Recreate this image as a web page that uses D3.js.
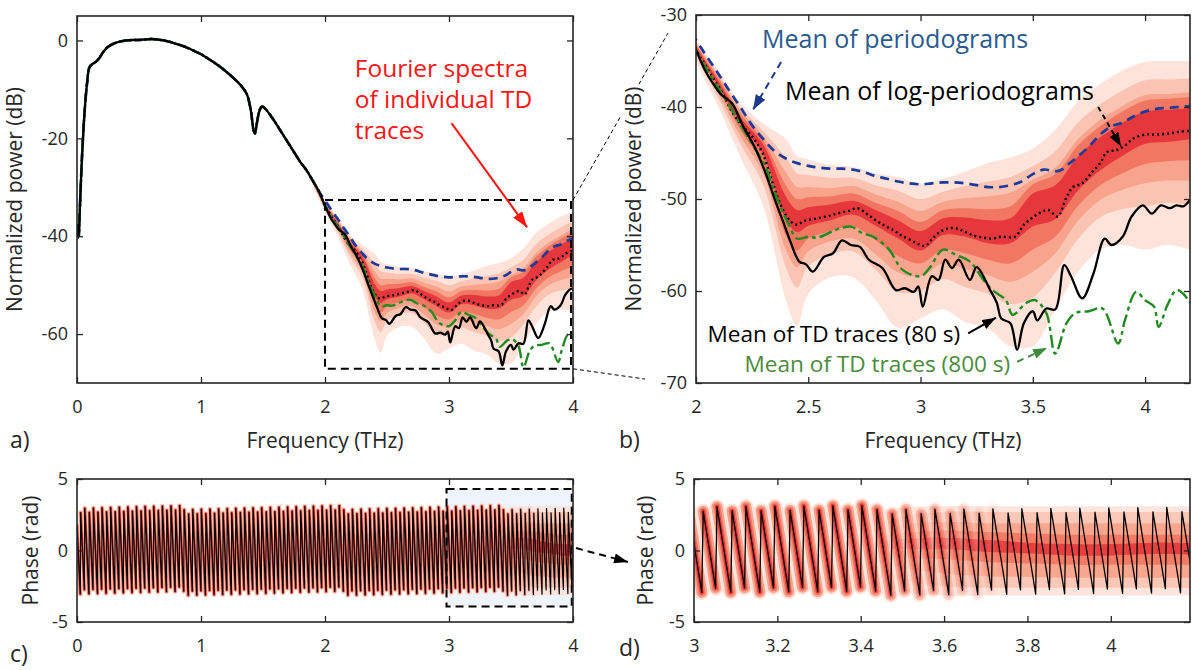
<!DOCTYPE html>
<html><head><meta charset="utf-8">
<script src="https://cdn.jsdelivr.net/npm/d3@7"></script>
<style>
html,body{margin:0;padding:0;background:#fff;}
svg{display:block;}
</style></head><body>
<svg id="chart" width="1192" height="670"></svg>
<script>
// ---------------- DATA ----------------
// Common spectrum (all four means coincide below 2 THz)
const fLow = [0.000,0.012,0.025,0.040,0.060,0.080,0.100,0.120,0.150,0.180,0.210,0.250,0.300,0.350,0.400,0.450,0.500,0.550,0.600,0.650,0.700,0.750,0.800,0.850,0.900,0.950,1.000,1.050,1.100,1.150,1.200,1.250,1.300,1.340,1.370,1.400,1.425,1.435,1.450,1.470,1.490,1.520,1.560,1.600,1.650,1.700,1.750,1.800,1.850,1.900,1.950];
const powLow = [-37.5,-40.3,-33,-24,-15,-9,-5.5,-4.9,-4.4,-3.6,-2.4,-1.3,-0.6,-0.2,0.0,0.1,0.1,0.2,0.3,0.2,0.0,-0.3,-0.7,-1.1,-1.6,-2.2,-2.8,-3.6,-4.4,-5.3,-6.3,-7.4,-8.6,-9.8,-11.0,-14.0,-18.5,-19.0,-17.0,-14.5,-13.5,-14.0,-15.3,-16.8,-18.8,-20.8,-22.8,-24.8,-26.5,-28.6,-30.8];

// Above 2 THz: [frequency THz, power dB]
const meanPeriodogramHigh = [[2.00,-32.7],[2.05,-34.6],[2.10,-36.4],[2.15,-38.3],[2.20,-40.1],[2.25,-42.0],[2.30,-43.5],[2.35,-44.8],[2.40,-45.6],[2.45,-46.1],[2.50,-46.4],[2.55,-46.6],[2.60,-46.7],[2.65,-46.7],[2.70,-46.8],[2.75,-47.1],[2.80,-47.5],[2.85,-47.8],[2.90,-48.1],[2.95,-48.3],[3.00,-48.4],[3.05,-48.3],[3.10,-48.2],[3.15,-48.2],[3.20,-48.3],[3.25,-48.5],[3.30,-48.7],[3.35,-48.7],[3.40,-48.5],[3.45,-48.1],[3.50,-47.3],[3.55,-46.8],[3.60,-47.0],[3.63,-46.8],[3.66,-46.2],[3.70,-45.4],[3.75,-44.3],[3.80,-43.0],[3.85,-42.1],[3.90,-41.7],[3.95,-41.0],[4.00,-40.5],[4.05,-40.2],[4.10,-40.1],[4.15,-40.0],[4.20,-39.9]];
const meanLogPeriodogramHigh = [[2.00,-33.8],[2.04,-35.4],[2.08,-37.0],[2.12,-38.6],[2.16,-40.5],[2.20,-41.9],[2.24,-42.9],[2.27,-43.9],[2.30,-45.2],[2.33,-47.4],[2.36,-49.6],[2.39,-51.3],[2.42,-52.4],[2.45,-52.8],[2.48,-52.4],[2.52,-52.2],[2.56,-52.0],[2.60,-51.8],[2.64,-51.5],[2.68,-51.3],[2.72,-51.0],[2.76,-51.6],[2.80,-52.3],[2.84,-52.9],[2.88,-53.4],[2.91,-53.9],[2.95,-54.4],[2.99,-54.9],[3.02,-55.1],[3.05,-54.4],[3.08,-53.7],[3.12,-53.2],[3.16,-53.2],[3.20,-53.6],[3.24,-54.0],[3.28,-54.2],[3.32,-54.3],[3.36,-54.1],[3.42,-54.1],[3.46,-52.8],[3.50,-52.0],[3.54,-51.4],[3.57,-51.2],[3.61,-51.9],[3.65,-49.8],[3.68,-48.7],[3.72,-48.3],[3.76,-47.2],[3.80,-46.1],[3.83,-44.9],[3.87,-44.7],[3.91,-44.2],[3.95,-43.4],[4.00,-43.0],[4.05,-43.0],[4.10,-42.9],[4.15,-42.7],[4.20,-42.6]];
const meanTD80High = [[2.00,-33.8],[2.04,-36.0],[2.08,-37.6],[2.11,-38.6],[2.16,-39.6],[2.21,-42.1],[2.26,-44.3],[2.31,-47.2],[2.35,-50.0],[2.39,-52.6],[2.42,-54.6],[2.46,-56.8],[2.49,-57.1],[2.52,-57.9],[2.57,-56.3],[2.61,-55.9],[2.65,-54.5],[2.69,-55.0],[2.73,-55.2],[2.77,-56.6],[2.83,-57.5],[2.89,-59.9],[2.93,-59.7],[2.97,-60.1],[2.99,-59.5],[3.01,-61.7],[3.05,-58.4],[3.08,-58.8],[3.11,-56.6],[3.14,-57.5],[3.17,-56.6],[3.22,-58.8],[3.25,-57.4],[3.31,-59.9],[3.34,-61.3],[3.36,-63.0],[3.40,-63.5],[3.43,-66.4],[3.46,-63.5],[3.50,-62.2],[3.52,-63.2],[3.56,-61.9],[3.60,-62.0],[3.64,-57.2],[3.67,-58.4],[3.72,-60.8],[3.77,-58.1],[3.82,-54.3],[3.85,-55.0],[3.90,-54.1],[3.94,-51.9],[3.99,-50.7],[4.03,-51.6],[4.07,-50.7],[4.11,-51.0],[4.14,-50.7],[4.17,-50.8],[4.20,-50.1]];
const meanTD800High = [[2.00,-33.8],[2.04,-35.6],[2.08,-37.2],[2.12,-38.7],[2.16,-40.3],[2.20,-42.0],[2.24,-43.6],[2.28,-45.2],[2.31,-46.5],[2.34,-48.5],[2.37,-50.5],[2.41,-52.6],[2.45,-54.3],[2.50,-54.1],[2.54,-54.2],[2.60,-53.6],[2.64,-53.2],[2.69,-53.0],[2.74,-53.7],[2.79,-54.1],[2.86,-55.5],[2.92,-57.7],[3.00,-58.4],[3.04,-57.5],[3.10,-55.5],[3.16,-56.1],[3.22,-56.8],[3.28,-58.8],[3.32,-59.9],[3.38,-61.0],[3.41,-62.6],[3.47,-61.3],[3.51,-61.0],[3.56,-62.4],[3.60,-66.8],[3.65,-63.5],[3.69,-62.4],[3.75,-62.2],[3.81,-61.9],[3.88,-65.7],[3.91,-63.2],[3.96,-60.1],[4.00,-61.0],[4.04,-61.7],[4.06,-63.9],[4.10,-61.5],[4.14,-59.9],[4.17,-60.3],[4.20,-61.3]];

// Percentile bands of the individual spectra (dB), outer (L1) to core (L5)
const bandF   = [1.9,2.0,2.1,2.2,2.3,2.4,2.45,2.5,2.6,2.7,2.8,2.9,3.0,3.1,3.2,3.3,3.4,3.5,3.6,3.7,3.8,3.9,4.0,4.1,4.2];
const bandL1lo = [-29.6,-35.1,-40.0,-45.6,-50.8,-61.0,-63.8,-60.3,-58.5,-58.5,-61.0,-64.0,-63.0,-62.0,-63.4,-64.1,-66.0,-66.0,-62.0,-58.0,-55.5,-55.0,-55.5,-55.0,-55.5];
const bandL1hi = [-28.2,-32.6,-36.0,-39.6,-41.8,-43.5,-45.3,-45.7,-46.3,-46.5,-47.2,-47.6,-48.3,-47.8,-47.0,-46.1,-45.5,-44.5,-42.5,-39.4,-37.5,-36.0,-35.1,-35.0,-35.0];
const bandL2lo = [-29.3,-34.5,-39.1,-44.1,-48.5,-57.4,-59.6,-57.3,-56.0,-55.7,-57.7,-60.1,-60.0,-58.7,-59.6,-60.3,-61.4,-60.7,-58.0,-54.4,-52.0,-51.1,-50.8,-50.4,-50.6];
const bandL2hi = [-28.4,-32.9,-36.4,-40.1,-42.6,-45.5,-47.2,-47.4,-47.7,-47.7,-48.5,-49.1,-50.0,-49.2,-48.6,-48.1,-47.6,-46.4,-44.8,-41.7,-39.7,-38.2,-37.1,-37.0,-36.9];
const bandL3lo = [-29.1,-34.2,-38.6,-43.3,-47.3,-55.5,-57.4,-55.7,-54.6,-54.3,-56.0,-58.0,-58.4,-57.0,-57.6,-58.3,-59.0,-57.9,-55.9,-52.4,-50.1,-49.0,-48.3,-48.0,-48.0];
const bandL3hi = [-28.5,-33.1,-36.7,-40.5,-43.2,-47.1,-48.7,-48.7,-48.8,-48.6,-49.5,-50.3,-51.3,-50.3,-49.9,-49.7,-49.3,-47.9,-46.6,-43.5,-41.4,-39.9,-38.7,-38.6,-38.4];
const bandL4lo = [-29.0,-34.0,-38.1,-42.6,-46.3,-53.9,-55.6,-54.3,-53.5,-53.0,-54.5,-56.2,-57.0,-55.5,-55.9,-56.6,-57.0,-55.5,-54.1,-50.8,-48.5,-47.2,-46.2,-45.9,-45.8];
const bandL4hi = [-28.6,-33.2,-36.9,-40.8,-43.7,-48.5,-50.0,-49.8,-49.7,-49.4,-50.4,-51.3,-52.5,-51.2,-51.0,-51.1,-50.8,-48.4,-47.3,-44.2,-42.1,-40.5,-39.3,-39.1,-38.9];
const bandL5lo = [-28.85,-33.7,-37.7,-41.9,-45.2,-52.2,-53.6,-52.9,-52.3,-51.7,-52.9,-54.3,-55.6,-53.9,-54.1,-54.8,-54.8,-53.0,-52.2,-49.1,-46.9,-45.3,-44.0,-43.8,-43.5];
const bandL5hi = [-28.65,-33.4,-37.2,-41.2,-44.1,-49.7,-51.2,-50.9,-50.6,-50.2,-51.2,-52.3,-53.5,-52.1,-52.0,-52.3,-52.1,-49.4,-48.5,-45.4,-43.3,-41.7,-40.5,-40.3,-40.1];

// Phase: unwrapped linear phase (rad) at the ends of the range, and sampling step
const phaseKnotF = [0, 4.2];
const phaseUnwrapped = [548.38, -209.93];
const phaseStepTHz = 0.00331;
const phaseHaloFadeF = [3.42, 3.75];
// Phase percentile bands where the traces decorrelate (rad)
const phaseBandF = [3.30,3.40,3.50,3.60,3.70,3.80,3.90,4.00,4.10,4.20];
const pL1lo = [-1.0,-2.2,-2.9,-3.15,-3.15,-3.15,-3.15,-3.15,-3.15,-3.15];
const pL1hi = [1.4,2.5,3.0,3.1,3.1,3.1,3.1,3.1,3.1,3.1];
const pL2lo = [-0.4,-1.3,-2.1,-2.5,-2.6,-2.6,-2.6,-2.6,-2.6,-2.6];
const pL2hi = [0.9,1.8,2.4,2.7,2.7,2.7,2.7,2.7,2.7,2.7];
const pL3lo = [0.0,-0.6,-1.2,-1.6,-1.8,-1.85,-1.9,-1.9,-1.9,-1.9];
const pL3hi = [0.6,1.2,1.8,2.0,1.9,1.9,1.9,1.9,1.9,1.9];
const pL4lo = [0.2,-0.1,-0.5,-0.6,-0.8,-0.9,-1.0,-1.0,-1.0,-1.0];
const pL4hi = [0.4,0.8,1.2,1.4,1.3,1.2,1.1,1.1,1.1,1.1];
const pL5lo = [0.3,0.2,0.1,0.1,-0.1,-0.2,-0.35,-0.35,-0.25,-0.3];
const pL5hi = [0.3,0.5,0.8,0.9,0.75,0.55,0.45,0.45,0.55,0.5];

// Zoom boxes
const zoomBoxA = {f:[2,4], p:[-67.1,-32.6]};
const zoomBoxC = {f:[2.98,3.99], p:[-3.92,4.3]};

// Tick values
const ticksAx = [0,1,2,3,4], ticksAy = [-60,-40,-20,0];
const ticksBx = [2,2.5,3,3.5,4], ticksBy = [-70,-60,-50,-40,-30];
const ticksCx = [0,1,2,3,4], ticksCy = [-5,0,5];
const ticksDx = [3,3.2,3.4,3.6,3.8,4], ticksDy = [-5,0,5];

// ---------------- DRAWING ----------------
const INK = '#262626';
const FONT = '"Open Sans","Noto Sans","DejaVu Sans",sans-serif';
const svg = d3.select('#chart').attr('font-family', FONT);
const defs = svg.append('defs');

const xa = d3.scaleLinear().domain([0,4]).range([77,573]);
const ya = d3.scaleLinear().domain([-70,5]).range([383,16]);
const xb = d3.scaleLinear().domain([2,4.2]).range([696,1190]);
const yb = d3.scaleLinear().domain([-70,-30]).range([383,15]);
const xc = d3.scaleLinear().domain([0,4]).range([77,573]);
const yc = d3.scaleLinear().domain([-5,5]).range([622,479]);
const xd = d3.scaleLinear().domain([3,4.19]).range([694,1190]);
const yd = d3.scaleLinear().domain([-5,5]).range([622,479]);

function clip(id, x, y) {
  defs.append('clipPath').attr('id', id).append('rect')
    .attr('x', x.range()[0]).attr('y', y.range()[1])
    .attr('width', x.range()[1]-x.range()[0]).attr('height', y.range()[0]-y.range()[1]);
}
clip('cA', xa, ya); clip('cB', xb, yb); clip('cC', xc, yc); clip('cD', xd, yd);

function marker(id, color, len, wid) {
  defs.append('marker').attr('id', id).attr('markerUnits','userSpaceOnUse')
    .attr('markerWidth', len).attr('markerHeight', wid)
    .attr('refX', len).attr('refY', wid/2).attr('orient','auto')
    .append('path').attr('d', `M0,0L${len},${wid/2}L0,${wid}Z`).attr('fill', color);
}
marker('arRed', '#ff1414', 16, 11);
marker('arBlue', '#1b3a8c', 15, 11);
marker('arBlack', '#000', 14, 10);
marker('arGreen', '#3e8a3e', 14, 10);

const bandColors = ['#fde3da','#fbc4b2','#f8a38c','#f27762','#e6383c'];
const bandLevels = [[bandL1lo,bandL1hi],[bandL2lo,bandL2hi],[bandL3lo,bandL3hi],[bandL4lo,bandL4hi],[bandL5lo,bandL5hi]];
const phaseLevels = [[pL1lo,pL1hi],[pL2lo,pL2hi],[pL3lo,pL3hi],[pL4lo,pL4hi],[pL5lo,pL5hi]];

const lowPairs = fLow.map((f,i)=>[f, powLow[i]]);
const series = [
  {data: lowPairs.concat(meanPeriodogramHigh), color:'#1b3a9a', width:2.7, dash:'9,6'},
  {data: lowPairs.concat(meanLogPeriodogramHigh), color:'#000', width:2.4, dash:'2,3'},
  {data: lowPairs.concat(meanTD800High), color:'#1f8a1f', width:2.4, dash:'13,4,4,4'},
  {data: lowPairs.concat(meanTD80High), color:'#000', width:2.3, dash:null}
];

function drawAxes(g, x, y, xt, yt, fx) {
  const [x0,x1] = x.range(), [yB,yT] = y.range();
  const axs = [];
  axs.push(g.append('g').attr('transform',`translate(0,${yB})`)
    .call(d3.axisBottom(x).tickValues(xt).tickFormat(fx).tickSizeInner(-6).tickSizeOuter(0).tickPadding(17)));
  axs.push(g.append('g').attr('transform',`translate(0,${yT})`)
    .call(d3.axisTop(x).tickValues(xt).tickFormat(()=>'').tickSizeInner(-6).tickSizeOuter(0)));
  axs.push(g.append('g').attr('transform',`translate(${x0},0)`)
    .call(d3.axisLeft(y).tickValues(yt).tickFormat(d=>String(d)).tickSizeInner(-6).tickSizeOuter(0).tickPadding(9)));
  axs.push(g.append('g').attr('transform',`translate(${x1},0)`)
    .call(d3.axisRight(y).tickValues(yt).tickFormat(()=>'').tickSizeInner(-6).tickSizeOuter(0)));
  axs.forEach(a => {
    a.select('.domain').remove();
    a.attr('font-family', FONT).attr('font-size', 18);
    a.selectAll('line').attr('stroke', INK).attr('stroke-width', 1.3);
    a.selectAll('text').attr('fill', INK);
  });
  g.append('rect').attr('x',x0).attr('y',yT).attr('width',x1-x0).attr('height',yB-yT)
    .attr('fill','none').attr('stroke',INK).attr('stroke-width',1.6);
}
const fmtPlain = d => String(+(+d).toFixed(1));

function drawSpectrum(g, x, y, clipId) {
  const data = g.append('g').attr('clip-path', `url(#${clipId})`);
  bandLevels.forEach((lv,k) => {
    const area = d3.area().curve(d3.curveCatmullRom)
      .x((d,i)=>x(bandF[i])).y0((d,i)=>y(lv[0][i])).y1((d,i)=>y(lv[1][i]));
    data.append('path').datum(bandF).attr('d', area).attr('fill', bandColors[k]);
  });
  const ln = d3.line().curve(d3.curveCatmullRom).x(d=>x(d[0])).y(d=>y(d[1]));
  series.forEach(s => {
    data.append('path').datum(s.data).attr('d', ln).attr('fill','none')
      .attr('stroke', s.color).attr('stroke-width', s.width)
      .attr('stroke-dasharray', s.dash).attr('stroke-linejoin','round');
  });
}

// ---- Panel a ----
const gA = svg.append('g');
drawSpectrum(gA, xa, ya, 'cA');
gA.append('rect').attr('x', xa(zoomBoxA.f[0])).attr('y', ya(zoomBoxA.p[1]))
  .attr('width', xa(zoomBoxA.f[1]) - xa(zoomBoxA.f[0]) - 2).attr('height', ya(zoomBoxA.p[0]) - ya(zoomBoxA.p[1]))
  .attr('fill','none').attr('stroke','#000').attr('stroke-width',2).attr('stroke-dasharray','8,5');
drawAxes(gA, xa, ya, ticksAx, ticksAy, fmtPlain);

// ---- Panel b ----
const gB = svg.append('g');
drawSpectrum(gB, xb, yb, 'cB');
drawAxes(gB, xb, yb, ticksBx, ticksBy, fmtPlain);

// ---- Phase panels ----
const phaseF = d3.range(phaseKnotF[0], phaseKnotF[1] + 1e-9, phaseStepTHz);
const unwrap = d3.scaleLinear().domain(phaseKnotF).range(phaseUnwrapped);
const wrapPhase = v => { const t = 2*Math.PI; return ((((v + Math.PI) % t) + t) % t) - Math.PI; };
const phaseData = phaseF.map(f => [f, wrapPhase(unwrap(f))]);
const phaseSegs = [];
phaseData.forEach((d,i) => {
  if (i === 0 || d[1] > phaseData[i-1][1]) phaseSegs.push([]);
  phaseSegs[phaseSegs.length-1].push(d);
});

function drawPhase(g, x, y, clipId, maskId, haloW, haloC, blackW, box) {
  const data = g.append('g').attr('clip-path', `url(#${clipId})`);
  if (box) {
    data.append('rect').attr('x', x(box.f[0])).attr('y', y(box.p[1]))
      .attr('width', x(box.f[1]) - x(box.f[0])).attr('height', y(box.p[0]) - y(box.p[1]))
      .attr('fill', '#eef3fc');
  }
  phaseLevels.forEach((lv,k) => {
    const area = d3.area().curve(d3.curveCatmullRom)
      .x((d,i)=>x(phaseBandF[i])).y0((d,i)=>y(lv[0][i])).y1((d,i)=>y(lv[1][i]));
    data.append('path').datum(phaseBandF).attr('d', area).attr('fill', bandColors[k]).attr('opacity', 0.92);
  });
  const gid = maskId + 'g';
  const grad = defs.append('linearGradient').attr('id', gid).attr('gradientUnits','userSpaceOnUse')
    .attr('x1', x(phaseHaloFadeF[0])).attr('x2', x(phaseHaloFadeF[1])).attr('y1',0).attr('y2',0);
  grad.append('stop').attr('offset',0).attr('stop-color','#fff');
  grad.append('stop').attr('offset',1).attr('stop-color','#000');
  defs.append('mask').attr('id', maskId).attr('maskUnits','userSpaceOnUse')
    .attr('x',0).attr('y',0).attr('width',1192).attr('height',670)
    .append('rect').attr('x',0).attr('y',0).attr('width',1192).attr('height',670).attr('fill',`url(#${gid})`);
  const halo = data.append('g').attr('mask', `url(#${maskId})`);
  const ln = d3.line().x(d=>x(d[0])).y(d=>y(d[1]));
  const segD = phaseSegs.map(s => ln(s)).join('');
  haloW.forEach((w,k) => {
    halo.append('path').attr('d', segD).attr('fill','none').attr('stroke', haloC[k])
      .attr('stroke-width', w).attr('stroke-linecap','round').attr('stroke-linejoin','round');
  });
  data.append('path').datum(phaseData).attr('d', ln).attr('fill','none')
    .attr('stroke','#000').attr('stroke-width', blackW).attr('stroke-linejoin','round');
}

const gC = svg.append('g');
drawPhase(gC, xc, yc, 'cC', 'mC', [5.5, 4.2, 3.0, 2.0],
  [bandColors[0], bandColors[1], bandColors[3], bandColors[4]], 1.2, zoomBoxC);
gC.append('rect').attr('x', xc(zoomBoxC.f[0])).attr('y', yc(zoomBoxC.p[1]))
  .attr('width', xc(zoomBoxC.f[1]) - xc(zoomBoxC.f[0])).attr('height', yc(zoomBoxC.p[0]) - yc(zoomBoxC.p[1]))
  .attr('fill','none').attr('stroke','#000').attr('stroke-width',2).attr('stroke-dasharray','8,5');
drawAxes(gC, xc, yc, ticksCx, ticksCy, fmtPlain);

const gD = svg.append('g');
drawPhase(gD, xd, yd, 'cD', 'mD', [15, 11, 7, 4],
  [bandColors[0], bandColors[2], bandColors[3], bandColors[4]], 1.3, null);
drawAxes(gD, xd, yd, ticksDx, ticksDy, fmtPlain);

// ---- Axis titles & panel letters ----
function ylabel(x, yMid, text, bg) {
  const g = svg.append('g').attr('transform', `translate(${x},${yMid}) rotate(-90)`);
  const t = g.append('text').attr('text-anchor','middle').attr('font-size',21).attr('fill',INK).text(text);
  if (bg) {
    const b = t.node().getBBox();
    g.insert('rect','text').attr('x', b.x-2).attr('y', b.y+2).attr('width', b.width+4).attr('height', b.height-2).attr('fill','#fff');
  }
}
function xlabel(x, y, text) {
  svg.append('text').attr('x', x).attr('y', y).attr('text-anchor','middle').attr('font-size',21).attr('fill',INK).text(text);
}

const conn = svg.append('g').attr('stroke','#000').attr('stroke-width',1).attr('stroke-dasharray','4,3').attr('fill','none');
conn.append('line').attr('x1', xa(zoomBoxA.f[1])).attr('y1', ya(zoomBoxA.p[1]))
  .attr('x2', xb(2) - 28).attr('y2', yb(-31.96));
conn.append('line').attr('x1', xa(zoomBoxA.f[1])).attr('y1', ya(zoomBoxA.p[0]))
  .attr('x2', xb(2) - 51).attr('y2', yb(-69.57));

ylabel(22, (ya(5)+ya(-70))/2, 'Normalized power (dB)', false);
ylabel(641, (yb(-30)+yb(-70))/2, 'Normalized power (dB)', true);
ylabel(38, (yc(5)+yc(-5))/2, 'Phase (rad)', false);
ylabel(653, (yd(5)+yd(-5))/2, 'Phase (rad)', false);
xlabel((xa(0)+xa(4))/2, 448, 'Frequency (THz)');
xlabel((xb(2)+xb(4.2))/2, 448, 'Frequency (THz)');

const letters = [['a)',10,448],['b)',619,448],['c)',10,662],['d)',619,656]];
letters.forEach(l => svg.append('text').attr('x',l[1]).attr('y',l[2]).attr('font-size',23).attr('fill',INK).text(l[0]));

// ---- Annotations ----
const red = '#ff1414';
['Fourier spectra','of individual TD','traces'].forEach((s,i) => {
  svg.append('text').attr('x', xa(2.24)).attr('y', ya(-7.5) + i*31).attr('font-size',24.5).attr('fill',red).text(s);
});
svg.append('line').attr('x1', xa(3.02)).attr('y1', ya(-16.9)).attr('x2', xa(3.63)).attr('y2', ya(-38.2))
  .attr('stroke', red).attr('stroke-width',2).attr('marker-end','url(#arRed)');

function note(text, f, p, color, size) {
  svg.append('text').attr('x', xb(f)).attr('y', yb(p)).attr('font-size',size).attr('fill',color).text(text);
}
note('Mean of periodograms', 2.294, -33.6, '#2b5b8e', 25);
note('Mean of log-periodograms', 2.396, -39.2, '#000', 25);
note('Mean of TD traces (80 s)', 2.051, -65.55, '#000', 22.6);
note('Mean of TD traces (800 s)', 2.216, -68.85, '#4a8c3c', 22.6);

function arrow(f1,p1,f2,p2,color,dash,mk) {
  svg.append('line').attr('x1', xb(f1)).attr('y1', yb(p1)).attr('x2', xb(f2)).attr('y2', yb(p2))
    .attr('stroke', color).attr('stroke-width', 2).attr('stroke-dasharray', dash).attr('marker-end', `url(#${mk})`);
}
arrow(2.379, -35.1, 2.254, -40.3, '#1b3a8c', '7,5', 'arBlue');
arrow(3.791, -40.0, 3.893, -44.3, '#000', '5,4', 'arBlack');
arrow(3.212, -64.6, 3.336, -62.9, '#000', null, 'arBlack');
arrow(3.43, -67.7, 3.563, -66.2, '#3e8a3e', '7,5', 'arGreen');

svg.append('line').attr('x1', xc(4.024)).attr('y1', yc(0.17)).attr('x2', xd(3) - 66).attr('y2', yd(-0.8))
  .attr('stroke','#000').attr('stroke-width',2).attr('stroke-dasharray','7,5').attr('marker-end','url(#arBlack)');
</script>
</body></html>
